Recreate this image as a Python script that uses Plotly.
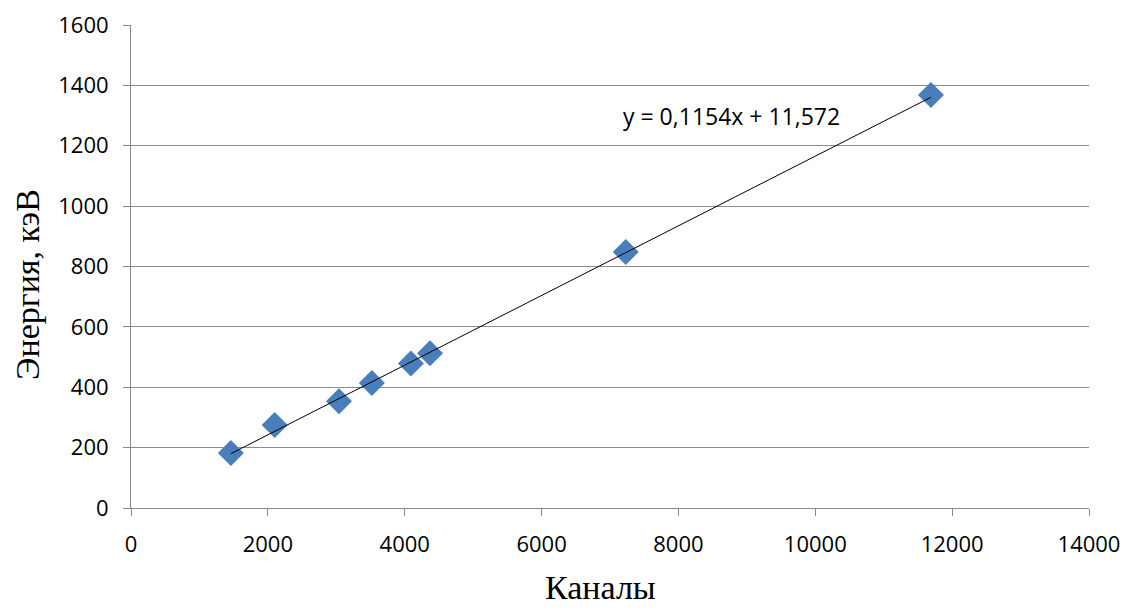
import plotly.graph_objects as go

channels = [1460, 2100, 3040, 3520, 4090, 4370, 7230, 11690]
energy = [182, 275, 354, 414, 479, 513, 848, 1368]
slope = 0.1154
intercept = 11.572
eq_label = "y = 0,1154x + 11,572"
x_title = "Каналы"
y_title = "Энергия, кэВ"

x_fit = [min(channels), max(channels)]
y_fit = [slope * v + intercept for v in x_fit]

fig = go.Figure()
fig.add_trace(go.Scatter(x=channels, y=energy, mode="markers",
                         marker=dict(symbol="diamond", size=20, color="#4A7EBB",
                                     line=dict(width=0)),
                         showlegend=False))
fig.add_trace(go.Scatter(x=x_fit, y=y_fit, mode="lines",
                         line=dict(color="#000000", width=1),
                         showlegend=False))
fig.add_annotation(x=8770, y=1298, text=eq_label, showarrow=False,
                   font=dict(family="Open Sans", size=23, color="#000000"))
fig.add_annotation(xref="paper", yref="paper", x=0.4896, y=-0.165,
                   text=x_title, showarrow=False, yanchor="middle",
                   font=dict(family="Liberation Serif", size=34, color="#000000"))
fig.add_annotation(xref="paper", yref="paper", x=0, xshift=-103, y=0.4617,
                   text=y_title, showarrow=False, textangle=-90,
                   xanchor="center", yanchor="middle",
                   font=dict(family="Liberation Serif", size=34, color="#000000"))

fig.update_layout(
    width=1125, height=610,
    margin=dict(l=131, r=36, t=25, b=102, autoexpand=False),
    plot_bgcolor="white", paper_bgcolor="white",
    xaxis=dict(range=[0, 14000], dtick=2000, tick0=0, showgrid=False, automargin=False,
               zeroline=False, showline=True, linecolor="#888888", linewidth=1,
               ticks="outside", ticklen=7, tickcolor="#888888", tickformat="d",
               tickfont=dict(family="Open Sans", size=22, color="#000000"),
               ticklabelstandoff=10),
    yaxis=dict(range=[0, 1600], dtick=200, tick0=0, showgrid=True, automargin=False,
               gridcolor="#8C8C8C", gridwidth=1, zeroline=False,
               showline=True, linecolor="#888888", linewidth=1,
               ticks="outside", ticklen=7, tickcolor="#888888", tickformat="d",
               tickfont=dict(family="Open Sans", size=22, color="#000000"),
               ticklabelstandoff=10),
)

fig.write_html("out.html")
